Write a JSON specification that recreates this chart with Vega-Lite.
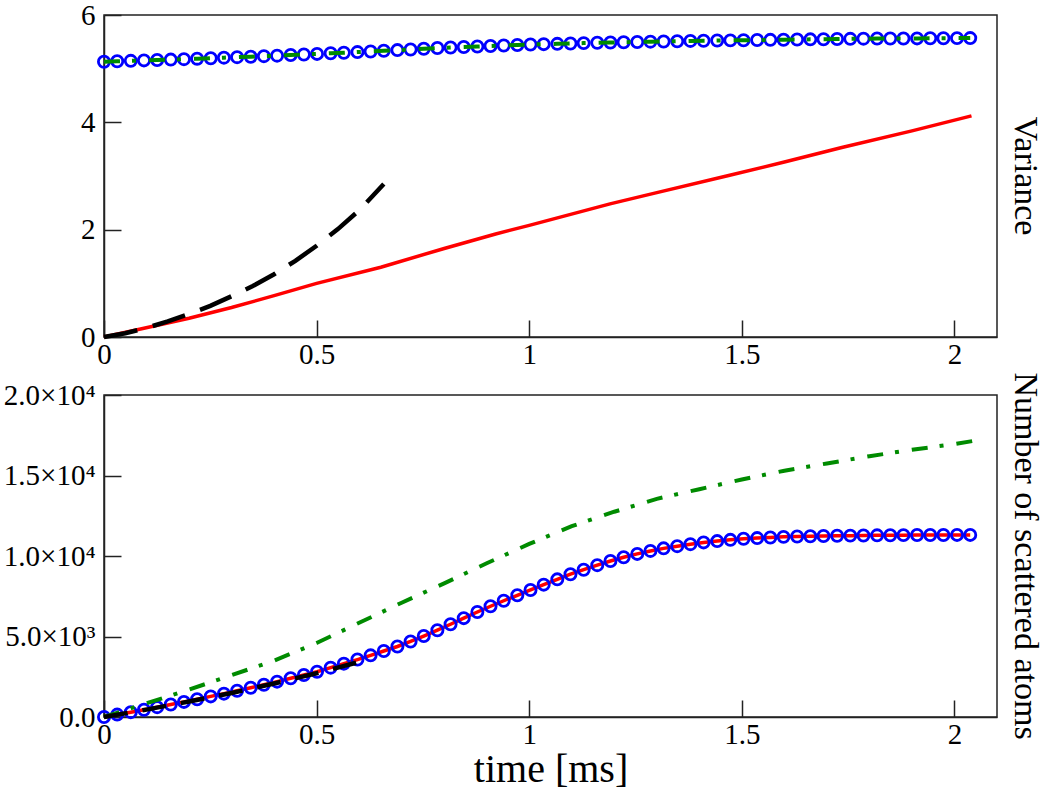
{
  "$schema": "https://vega.github.io/schema/vega-lite/v6.json",
  "background": "white",
  "padding": {"left": 2, "top": 0, "right": 0, "bottom": 0},
  "datasets": {
    "circ": [
      {"t": 0, "var": 5.130, "n": 0},
      {"t": 0.031, "var": 5.138, "n": 150},
      {"t": 0.063, "var": 5.146, "n": 300},
      {"t": 0.094, "var": 5.154, "n": 450},
      {"t": 0.125, "var": 5.161, "n": 610},
      {"t": 0.157, "var": 5.169, "n": 776},
      {"t": 0.188, "var": 5.177, "n": 938},
      {"t": 0.219, "var": 5.186, "n": 1105},
      {"t": 0.251, "var": 5.195, "n": 1280},
      {"t": 0.282, "var": 5.205, "n": 1451},
      {"t": 0.313, "var": 5.214, "n": 1628},
      {"t": 0.345, "var": 5.223, "n": 1820},
      {"t": 0.376, "var": 5.233, "n": 2006},
      {"t": 0.407, "var": 5.242, "n": 2196},
      {"t": 0.439, "var": 5.254, "n": 2403},
      {"t": 0.470, "var": 5.265, "n": 2605},
      {"t": 0.501, "var": 5.275, "n": 2808},
      {"t": 0.533, "var": 5.287, "n": 3064},
      {"t": 0.564, "var": 5.297, "n": 3312},
      {"t": 0.596, "var": 5.309, "n": 3568},
      {"t": 0.627, "var": 5.321, "n": 3830},
      {"t": 0.658, "var": 5.333, "n": 4100},
      {"t": 0.690, "var": 5.346, "n": 4380},
      {"t": 0.721, "var": 5.358, "n": 4690},
      {"t": 0.752, "var": 5.371, "n": 5030},
      {"t": 0.784, "var": 5.384, "n": 5390},
      {"t": 0.815, "var": 5.395, "n": 5760},
      {"t": 0.846, "var": 5.404, "n": 6140},
      {"t": 0.878, "var": 5.413, "n": 6520},
      {"t": 0.909, "var": 5.423, "n": 6880},
      {"t": 0.940, "var": 5.432, "n": 7220},
      {"t": 0.972, "var": 5.442, "n": 7560},
      {"t": 1.003, "var": 5.451, "n": 7890},
      {"t": 1.034, "var": 5.457, "n": 8220},
      {"t": 1.066, "var": 5.463, "n": 8550},
      {"t": 1.097, "var": 5.469, "n": 8870},
      {"t": 1.128, "var": 5.476, "n": 9150},
      {"t": 1.160, "var": 5.482, "n": 9430},
      {"t": 1.191, "var": 5.488, "n": 9692},
      {"t": 1.222, "var": 5.493, "n": 9920},
      {"t": 1.254, "var": 5.498, "n": 10130},
      {"t": 1.285, "var": 5.503, "n": 10315},
      {"t": 1.316, "var": 5.507, "n": 10475},
      {"t": 1.348, "var": 5.512, "n": 10610},
      {"t": 1.379, "var": 5.517, "n": 10735},
      {"t": 1.410, "var": 5.521, "n": 10845},
      {"t": 1.442, "var": 5.524, "n": 10925},
      {"t": 1.473, "var": 5.527, "n": 11003},
      {"t": 1.504, "var": 5.530, "n": 11075},
      {"t": 1.536, "var": 5.534, "n": 11113},
      {"t": 1.567, "var": 5.537, "n": 11150},
      {"t": 1.598, "var": 5.540, "n": 11188},
      {"t": 1.630, "var": 5.543, "n": 11208},
      {"t": 1.661, "var": 5.546, "n": 11227},
      {"t": 1.692, "var": 5.549, "n": 11245},
      {"t": 1.724, "var": 5.552, "n": 11257},
      {"t": 1.755, "var": 5.556, "n": 11265},
      {"t": 1.786, "var": 5.559, "n": 11276},
      {"t": 1.818, "var": 5.561, "n": 11284},
      {"t": 1.849, "var": 5.562, "n": 11290},
      {"t": 1.880, "var": 5.563, "n": 11296},
      {"t": 1.912, "var": 5.564, "n": 11301},
      {"t": 1.943, "var": 5.566, "n": 11304},
      {"t": 1.974, "var": 5.567, "n": 11307},
      {"t": 2.006, "var": 5.569, "n": 11310},
      {"t": 2.037, "var": 5.570, "n": 11310}
    ],
    "topRed": [
      {"t": 0, "v": 0},
      {"t": 0.086, "v": 0.15},
      {"t": 0.2, "v": 0.35},
      {"t": 0.3, "v": 0.55},
      {"t": 0.4, "v": 0.77},
      {"t": 0.5, "v": 1.0},
      {"t": 0.651, "v": 1.30},
      {"t": 0.8, "v": 1.65},
      {"t": 0.921, "v": 1.92},
      {"t": 1.0, "v": 2.08},
      {"t": 1.19, "v": 2.48},
      {"t": 1.3, "v": 2.69},
      {"t": 1.464, "v": 3.0},
      {"t": 1.6, "v": 3.26},
      {"t": 1.735, "v": 3.53},
      {"t": 1.9, "v": 3.84},
      {"t": 2.04, "v": 4.12}
    ],
    "topBlack": [
      {"t": 0, "v": 0},
      {"t": 0.05, "v": 0.07},
      {"t": 0.1, "v": 0.17},
      {"t": 0.15, "v": 0.29},
      {"t": 0.2, "v": 0.43},
      {"t": 0.25, "v": 0.58},
      {"t": 0.3, "v": 0.76},
      {"t": 0.35, "v": 0.95},
      {"t": 0.4, "v": 1.17},
      {"t": 0.45, "v": 1.42},
      {"t": 0.5, "v": 1.70},
      {"t": 0.55, "v": 2.01},
      {"t": 0.6, "v": 2.36},
      {"t": 0.658, "v": 2.85}
    ],
    "botGreen": [
      {"t": 0, "v": 0},
      {"t": 0.1, "v": 850},
      {"t": 0.2, "v": 1700},
      {"t": 0.3, "v": 2600},
      {"t": 0.4, "v": 3500},
      {"t": 0.5, "v": 4600},
      {"t": 0.6, "v": 5850},
      {"t": 0.7, "v": 7100},
      {"t": 0.8, "v": 8300},
      {"t": 0.9, "v": 9550},
      {"t": 1.0, "v": 10750},
      {"t": 1.1, "v": 11850},
      {"t": 1.2, "v": 12750},
      {"t": 1.3, "v": 13550},
      {"t": 1.4, "v": 14150},
      {"t": 1.5, "v": 14750},
      {"t": 1.6, "v": 15300},
      {"t": 1.7, "v": 15750},
      {"t": 1.8, "v": 16200},
      {"t": 1.9, "v": 16600},
      {"t": 2.0, "v": 16950},
      {"t": 2.045, "v": 17150}
    ],
    "botBlack": [
      {"t": 0, "v": 0},
      {"t": 0.1, "v": 460},
      {"t": 0.2, "v": 960},
      {"t": 0.3, "v": 1490},
      {"t": 0.4, "v": 2080},
      {"t": 0.5, "v": 2720},
      {"t": 0.6, "v": 3420},
      {"t": 0.625, "v": 3560}
    ]
  },
  "bounds": "flush",
  "spacing": 58,
  "vconcat": [
    {
      "width": 893,
      "height": 322,
      "title": {"text": "Variance", "orient": "right", "anchor": "middle", "frame": "group", "offset": 11},
      "layer": [
        {
          "data": {"name": "topRed"},
          "mark": {"type": "line", "color": "#ff0000", "strokeWidth": 3.5},
          "encoding": {
            "x": {"field": "t", "type": "quantitative", "scale": {"domain": [0, 2.1], "nice": false},
              "axis": {"values": [0, 0.5, 1, 1.5, 2], "format": "~g", "title": null}},
            "y": {"field": "v", "type": "quantitative", "scale": {"domain": [0, 6], "nice": false},
              "axis": {"values": [0, 2, 4, 6], "format": "d", "title": null}}
          }
        },
        {
          "data": {"name": "circ"},
          "mark": {"type": "point", "shape": "circle", "filled": false, "color": "#0000ff", "strokeWidth": 2.8, "size": 125, "opacity": 1},
          "encoding": {
            "x": {"field": "t", "type": "quantitative"},
            "y": {"field": "var", "type": "quantitative"}
          }
        },
        {
          "data": {"name": "circ"},
          "mark": {"type": "line", "color": "#008b00", "strokeWidth": 4, "strokeDash": [16, 12, 4, 13]},
          "encoding": {
            "x": {"field": "t", "type": "quantitative"},
            "y": {"field": "var", "type": "quantitative"}
          }
        },
        {
          "data": {"name": "topBlack"},
          "mark": {"type": "line", "color": "#000000", "strokeWidth": 4.5, "strokeDash": [34, 16]},
          "encoding": {
            "x": {"field": "t", "type": "quantitative"},
            "y": {"field": "v", "type": "quantitative"}
          }
        }
      ]
    },
    {
      "width": 893,
      "height": 322,
      "title": {"text": "Number of scattered atoms", "orient": "right", "anchor": "middle", "frame": "group", "offset": 11},
      "layer": [
        {
          "data": {"name": "circ"},
          "mark": {"type": "line", "color": "#ff0000", "strokeWidth": 3.5},
          "encoding": {
            "x": {"field": "t", "type": "quantitative", "scale": {"domain": [0, 2.1], "nice": false},
              "axis": {"values": [0, 0.5, 1, 1.5, 2], "format": "~g", "title": "time [ms]"}},
            "y": {"field": "n", "type": "quantitative", "scale": {"domain": [0, 20000], "nice": false},
              "axis": {"values": [0, 5000, 10000, 15000, 20000], "title": null,
                "labelExpr": "datum.value == 0 ? '0.0' : (datum.value < 10000 ? format(datum.value / 1000, '.1f') + '×10³' : format(datum.value / 10000, '.1f') + '×10⁴')"}}
          }
        },
        {
          "data": {"name": "circ"},
          "mark": {"type": "point", "shape": "circle", "filled": false, "color": "#0000ff", "strokeWidth": 2.8, "size": 125, "opacity": 1},
          "encoding": {
            "x": {"field": "t", "type": "quantitative"},
            "y": {"field": "n", "type": "quantitative"}
          }
        },
        {
          "data": {"name": "botGreen"},
          "mark": {"type": "line", "color": "#008b00", "strokeWidth": 4, "strokeDash": [16, 12, 4, 13]},
          "encoding": {
            "x": {"field": "t", "type": "quantitative"},
            "y": {"field": "v", "type": "quantitative"}
          }
        },
        {
          "data": {"name": "botBlack"},
          "mark": {"type": "line", "color": "#000000", "strokeWidth": 4.5, "strokeDash": [24, 15]},
          "encoding": {
            "x": {"field": "t", "type": "quantitative"},
            "y": {"field": "v", "type": "quantitative"}
          }
        }
      ]
    }
  ],
  "config": {
    "font": "Liberation Serif",
    "view": {"stroke": "#222222", "strokeWidth": 1.5},
    "title": {"font": "Liberation Serif", "fontSize": 34, "fontWeight": "normal", "color": "#000000"},
    "axis": {
      "grid": false,
      "domainColor": "#222222",
      "domainWidth": 1.5,
      "tickColor": "#222222",
      "tickWidth": 1.5,
      "tickSize": -17,
      "labelFont": "Liberation Serif",
      "labelFontSize": 29,
      "labelColor": "#000000",
      "labelFlush": false,
      "labelOverlap": false,
      "titleFont": "Liberation Serif",
      "titleFontSize": 40,
      "titleFontWeight": "normal",
      "titleColor": "#000000"
    },
    "axisX": {"labelPadding": 20, "titlePadding": 0},
    "axisY": {"labelPadding": 26}
  }
}
